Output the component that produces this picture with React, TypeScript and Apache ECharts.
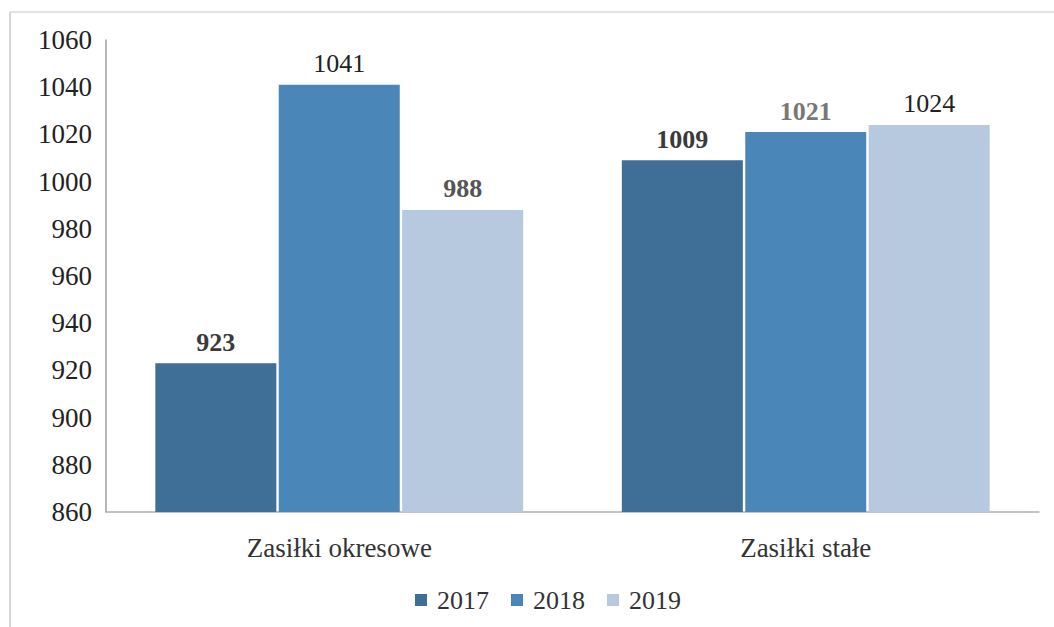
import React, { useEffect, useRef } from "react";
import * as echarts from "echarts";

const categories = ["Zasiłki okresowe", "Zasiłki stałe"];
const years = ["2017", "2018", "2019"];
const values2017 = [923, 1009];
const values2018 = [1041, 1021];
const values2019 = [988, 1024];
const colors = ["#3f6e96", "#4a86b8", "#b6c9de"];
const labelBold = [
  [true, true],
  [false, true],
  [true, false],
];
const labelColors = [
  ["#3a3a3a", "#3a3a3a"],
  ["#222222", "#777777"],
  ["#555555", "#222222"],
];

export default function App() {
  const ref = useRef<HTMLDivElement>(null);
  useEffect(() => {
    document.body.style.margin = "0";
    const chart = echarts.init(ref.current!, null, { renderer: "svg" });
    const font = "Liberation Serif";
    const data = [values2017, values2018, values2019];
    chart.setOption({
      animation: false,
      backgroundColor: "#ffffff",
      textStyle: { fontFamily: font },
      grid: { left: 106, right: 15, top: 40, bottom: 115 },
      legend: {
        top: 582,
        left: 410,
        itemWidth: 12,
        itemHeight: 12,
        itemGap: 22,
        icon: "rect",
        textStyle: { fontFamily: font, fontSize: 26, color: "#333", padding: [0, 0, 0, 5] },
        data: years,
      },
      xAxis: {
        type: "category",
        data: categories,
        axisTick: { show: false },
        axisLine: { lineStyle: { color: "#b0b0b0", width: 1.5 } },
        axisLabel: {
          margin: 22,
          formatter: (v: string) => "{t|" + v + "}",
          rich: { t: { fontFamily: font, fontSize: 27, color: "#333" } },
        },
      },
      yAxis: {
        type: "value",
        min: 860,
        max: 1060,
        interval: 20,
        splitLine: { show: false },
        axisLine: { show: true, lineStyle: { color: "#a0a0a0", width: 1.5 } },
        axisTick: { show: false },
        axisLabel: {
          margin: 14,
          formatter: (v: number) => "{t|" + String(v) + "}",
          rich: { t: { fontFamily: font, fontSize: 27, color: "#222" } },
        },
      },
      graphic: [
        {
          type: "line",
          shape: { x1: 10, y1: 12, x2: 10, y2: 627 },
          style: { stroke: "#c8c8c8", lineWidth: 1.5 },
        },
        {
          type: "line",
          shape: { x1: 10, y1: 12, x2: 1054, y2: 12 },
          style: { stroke: "#d8d8d8", lineWidth: 1.5 },
        },
      ],
      series: years.map((y, i) => ({
        name: y,
        type: "bar",
        data: data[i].map((v, j) => ({
          value: v,
          label: {
            fontWeight: labelBold[i][j] ? "bold" : "normal",
            color: labelColors[i][j],
          },
        })),
        barWidth: 121,
        barGap: "2%",
        itemStyle: { color: colors[i] },
        label: {
          show: true,
          position: "top",
          distance: 8,
          fontFamily: font,
          fontSize: 26,
        },
      })),
    });
    return () => chart.dispose();
  }, []);
  return <div ref={ref} style={{ width: 1054, height: 627 }} />;
}
